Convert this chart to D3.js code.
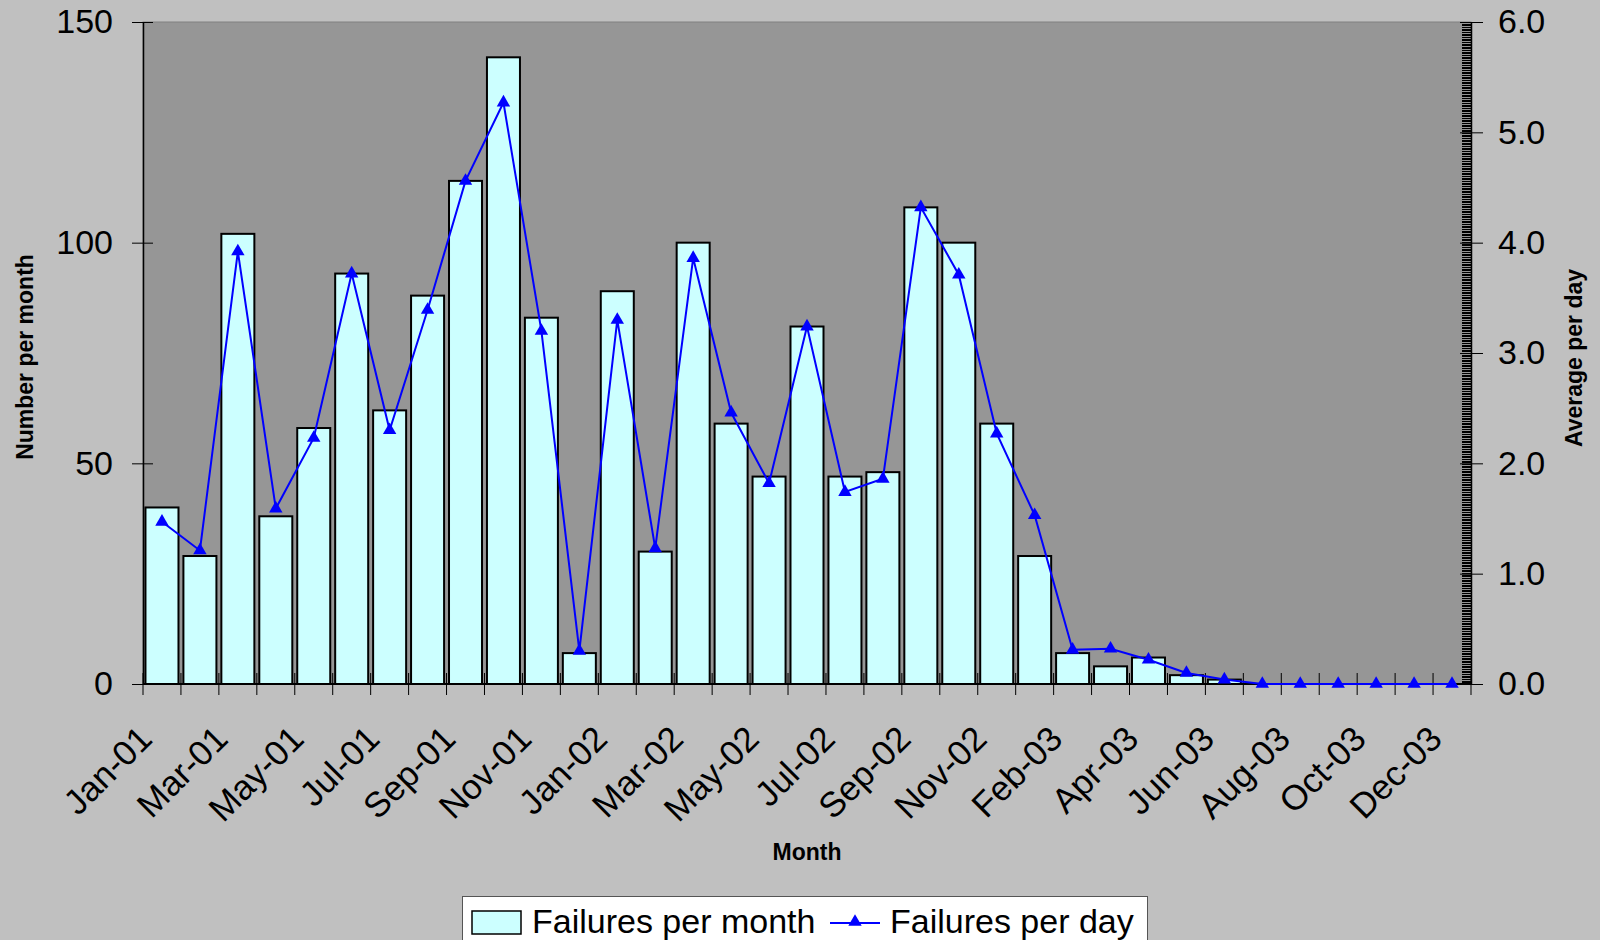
<!DOCTYPE html>
<html>
<head>
<meta charset="utf-8">
<script src="https://cdn.jsdelivr.net/npm/d3@7"></script>
<style>
  html, body { margin: 0; padding: 0; background: #c0c0c0; }
  svg { display: block; font-family: "Liberation Sans", Arial, sans-serif; }
</style>
</head>
<body>
<svg id="chart" width="1600" height="940"></svg>
<script>
// Monthly failure counts and the average number per day
const categories = [
  "Jan-01","Feb-01","Mar-01","Apr-01","May-01","Jun-01","Jul-01","Aug-01","Sep-01","Oct-01","Nov-01","Dec-01",
  "Jan-02","Feb-02","Mar-02","Apr-02","May-02","Jun-02","Jul-02","Aug-02","Sep-02","Oct-02","Nov-02","Dec-02",
  "Feb-03","Mar-03","Apr-03","May-03","Jun-03","Jul-03","Aug-03","Sep-03","Oct-03","Nov-03","Dec-03"
];
const failuresPerMonth = [
  40, 29, 102, 38, 58, 93, 62, 88, 114, 142, 83, 7,
  89, 30, 100, 59, 47, 81, 47, 48, 108, 100, 59, 29,
  7, 4, 6, 2, 1, 0, 0, 0, 0, 0, 0
];
const failuresPerDay = [
  1.47, 1.21, 3.92, 1.59, 2.23, 3.72, 2.30, 3.39, 4.56, 5.27, 3.20, 0.30,
  3.30, 1.23, 3.86, 2.46, 1.82, 3.24, 1.74, 1.86, 4.32, 3.71, 2.27, 1.53,
  0.31, 0.32, 0.22, 0.10, 0.04, 0, 0, 0, 0, 0, 0
];
const leftTicks = [0, 50, 100, 150];
const rightTicks = [0, 1, 2, 3, 4, 5, 6];
const xTickLabels = categories.filter((d, i) => i % 2 === 0);

const seriesNames = ["Failures per month", "Failures per day"];
const axisTitles = { left: "Number per month", right: "Average per day", bottom: "Month" };

const plot = { left: 143, right: 1471, top: 22, bottom: 684 };
const svg = d3.select("#chart");

const x = d3.scaleBand().domain(categories).range([plot.left, plot.right]).padding(0);
const yL = d3.scaleLinear().domain([0, 150]).range([plot.bottom, plot.top]);
const yR = d3.scaleLinear().domain([0, 6]).range([plot.bottom, plot.top]);
const bw = x.bandwidth();

// plot area
svg.append("rect")
  .attr("x", plot.left).attr("y", plot.top)
  .attr("width", plot.right - plot.left).attr("height", plot.bottom - plot.top)
  .attr("fill", "#969696").attr("stroke", "#808080").attr("stroke-width", 1);

// bars
svg.append("g").selectAll("rect")
  .data(categories.map((c, i) => ({ c, v: failuresPerMonth[i] })).filter(d => d.v > 0))
  .join("rect")
  .attr("x", d => x(d.c) + bw * 0.065)
  .attr("width", bw * 0.87)
  .attr("y", d => yL(d.v))
  .attr("height", d => yL(0) - yL(d.v))
  .attr("fill", "#ccffff")
  .attr("stroke", "#000")
  .attr("stroke-width", 2);

// x axis line and boundary ticks
const bx = categories.map(c => x(c)).concat([plot.right]);
svg.append("g").selectAll("line").data(bx).join("line")
  .attr("x1", d => d).attr("x2", d => d)
  .attr("y1", plot.bottom - 11).attr("y2", plot.bottom + 11)
  .attr("stroke", "#000").attr("stroke-width", 1);
svg.append("line")
  .attr("x1", plot.left).attr("x2", plot.right)
  .attr("y1", plot.bottom).attr("y2", plot.bottom)
  .attr("stroke", "#000").attr("stroke-width", 2);

// x labels
svg.append("g").selectAll("text").data(xTickLabels).join("text")
  .attr("transform", d => `translate(${x(d) + bw / 2 - 8},741) rotate(-45)`)
  .attr("text-anchor", "end")
  .attr("font-size", 35)
  .attr("fill", "#000")
  .text(d => d);

// left axis
const gL = svg.append("g").attr("transform", `translate(${plot.left},0)`)
  .call(d3.axisLeft(yL).tickValues(leftTicks).tickSize(11).tickSizeOuter(0).tickPadding(19));
gL.select(".domain").attr("stroke", "#000").attr("stroke-width", 1.5);
gL.selectAll(".tick line").attr("x1", 10).attr("stroke", "#000").attr("stroke-width", 1);
gL.selectAll(".tick text").attr("font-size", 34).attr("font-family", "Liberation Sans, Arial, sans-serif").attr("fill", "#000");

// right axis with dense minor ticks
const minor = d3.range(0, 400).map(i => i * 0.015);
svg.append("g").attr("shape-rendering", "crispEdges").selectAll("line").data(minor).join("line")
  .attr("x1", plot.right - 9).attr("x2", plot.right)
  .attr("y1", d => Math.round(yR(d)) + 0.5).attr("y2", d => Math.round(yR(d)) + 0.5)
  .attr("stroke", "#000").attr("stroke-width", 1);
const gR = svg.append("g").attr("transform", `translate(${plot.right},0)`)
  .call(d3.axisRight(yR).tickValues(rightTicks).tickFormat(d3.format(".1f")).tickSize(12).tickSizeOuter(0).tickPadding(15));
gR.select(".domain").attr("stroke", "#000").attr("stroke-width", 1.5);
gR.selectAll(".tick line").attr("x1", -11).attr("stroke", "#000").attr("stroke-width", 1);
gR.selectAll(".tick text").attr("font-size", 34).attr("font-family", "Liberation Sans, Arial, sans-serif").attr("fill", "#000");

// line series
const line = d3.line().x((d, i) => x(categories[i]) + bw / 2).y(d => yR(d));
svg.append("path").datum(failuresPerDay)
  .attr("d", line).attr("fill", "none").attr("stroke", "#0000ff").attr("stroke-width", 2);
const tri = d3.symbol().type(d3.symbolTriangle).size(78);
svg.append("g").selectAll("path").data(failuresPerDay).join("path")
  .attr("transform", (d, i) => `translate(${x(categories[i]) + bw / 2},${yR(d)})`)
  .attr("d", tri).attr("fill", "#0000ff");

// axis titles
svg.append("text").attr("transform", "translate(33,357) rotate(-90)")
  .attr("text-anchor", "middle").attr("font-size", 23).attr("font-weight", "bold").text(axisTitles.left);
svg.append("text").attr("transform", "translate(1582,358) rotate(-90)")
  .attr("text-anchor", "middle").attr("font-size", 23).attr("font-weight", "bold").text(axisTitles.right);
svg.append("text").attr("x", (plot.left + plot.right) / 2).attr("y", 860)
  .attr("text-anchor", "middle").attr("font-size", 23).attr("font-weight", "bold").text(axisTitles.bottom);

// legend
const lg = svg.append("g");
lg.append("rect").attr("x", 462.5).attr("y", 896.5).attr("width", 685).attr("height", 60)
  .attr("fill", "#fff").attr("stroke", "#555").attr("stroke-width", 1);
lg.append("rect").attr("x", 472).attr("y", 911).attr("width", 49).attr("height", 23)
  .attr("fill", "#ccffff").attr("stroke", "#000").attr("stroke-width", 1.5);
lg.append("text").attr("x", 532).attr("y", 933).attr("font-size", 34).text(seriesNames[0]);
lg.append("line").attr("x1", 830).attr("x2", 880).attr("y1", 923).attr("y2", 923)
  .attr("stroke", "#0000ff").attr("stroke-width", 2);
lg.append("path").attr("transform", "translate(855,922)").attr("d", tri).attr("fill", "#0000ff");
lg.append("text").attr("x", 890).attr("y", 933).attr("font-size", 34).text(seriesNames[1]);
</script>
</body>
</html>
